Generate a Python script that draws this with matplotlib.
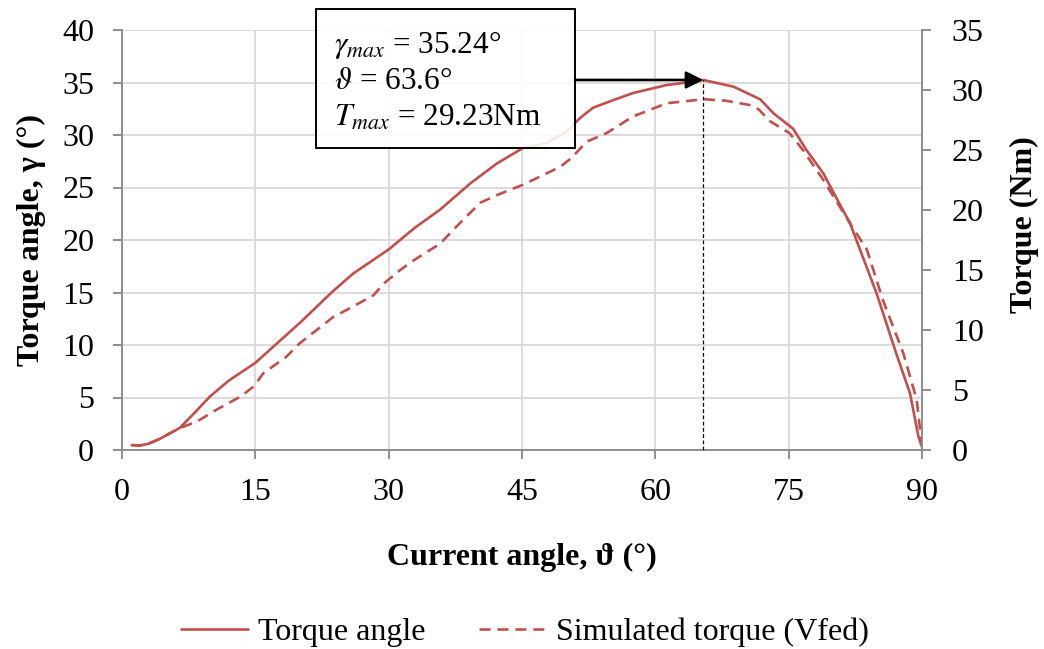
import matplotlib
matplotlib.use("Agg")
import matplotlib.pyplot as plt
from matplotlib.patches import Rectangle

# Torque angle versus current angle (left axis, degrees)
theta_gamma = [1.1, 2, 3, 4, 5, 6.5, 8, 9.9, 12, 15, 17.5, 20, 23.7, 26, 30, 33,
               35.8, 39.2, 42.2, 45.1, 47.7, 50, 51.5, 53, 55.2, 57.5, 61.3, 63.5,
               65.4, 68.8, 71.8, 73.3, 75.5, 77, 78.9, 80.5, 81.9, 84.9, 87.1,
               88.65, 89.6, 90]
gamma = [0.45, 0.42, 0.6, 0.95, 1.4, 2.1, 3.4, 5.1, 6.6, 8.3, 10.2, 12.1, 15.1,
         16.8, 19.1, 21.2, 22.9, 25.4, 27.3, 28.76, 29.2, 30.3, 31.6, 32.6, 33.3,
         34.0, 34.76, 35.0, 35.24, 34.6, 33.4, 32.06, 30.6, 28.57, 26.35, 23.8,
         21.6, 14.9, 9.2, 5.4, 1.27, 0.3]

# Simulated torque (Vfed) versus current angle (right axis, Nm)
theta_torque = [1.1, 2, 3, 4, 5, 6.5, 8.4, 10.5, 13.3, 14.8, 15.9, 18.5, 20, 23.8,
                25.6, 28.3, 29.5, 31.3, 32.8, 35.8, 37.6, 40.3, 42.2, 45.1, 49.3,
                50.5, 52.3, 54.5, 57.5, 61.3, 65.5, 68, 70.6, 71.6, 72.9, 75.1,
                76.6, 78.9, 81.9, 83.8, 85.6, 87.9, 89.4, 90]
torque = [0.42, 0.38, 0.55, 0.85, 1.25, 1.83, 2.36, 3.3, 4.44, 5.28, 6.39, 7.78,
          8.9, 11.1, 11.8, 12.9, 13.9, 15.0, 15.8, 17.2, 18.6, 20.6, 21.25, 22.1,
          23.6, 24.3, 25.7, 26.4, 27.8, 28.9, 29.23, 29.1, 28.75, 28.4, 27.4,
          26.4, 25.0, 22.5, 18.9, 16.7, 12.5, 8.06, 4.2, 0.3]

theta_peak = 65.4
gamma_max = 35.24
annotation_lines = [r"$\gamma_{max}$ = 35.24°", r"$\vartheta$ = 63.6°",
                    r"$T_{max}$ = 29.23Nm"]

x_ticks = [0, 15, 30, 45, 60, 75, 90]
left_ticks = [0, 5, 10, 15, 20, 25, 30, 35, 40]
right_ticks = [0, 5, 10, 15, 20, 25, 30, 35]

red = "#C0504D"
axis_grey = "#868686"
grid_grey = "#D9D9D9"

plt.rcParams["font.family"] = ["Liberation Serif", "DejaVu Serif"]
plt.rcParams["mathtext.fontset"] = "stix"

fig = plt.figure(figsize=(10.44, 6.49), dpi=100)
ax = fig.add_axes([122 / 1044, 1 - 450 / 649, 800 / 1044, 420 / 649])
ax2 = ax.twinx()

fs = 23

ax.set_xlim(0, 90)
ax.set_ylim(0, 40)
ax2.set_ylim(0, 35)
ax.set_xticks(x_ticks)
ax.set_yticks(left_ticks)
ax2.set_yticks(right_ticks)

ax.grid(True, color=grid_grey, linewidth=1.3, zorder=0)
ax.set_axisbelow(True)

for a in (ax, ax2):
    a.spines["top"].set_visible(False)
    for s in ("left", "right", "bottom"):
        a.spines[s].set_color(axis_grey)
        a.spines[s].set_linewidth(1.3)
    a.tick_params(direction="out", length=6.5, width=1.3, color=axis_grey,
                  labelsize=fs, labelcolor="black")
ax.spines["right"].set_visible(False)
ax2.spines["left"].set_visible(False)
ax2.spines["bottom"].set_visible(False)
ax.tick_params(axis="x", pad=13.5)
ax.tick_params(axis="y", pad=13.5)
ax2.tick_params(axis="y", pad=15)

l1, = ax.plot(theta_gamma, gamma, color=red, linewidth=1.9, label="Torque angle",
              solid_capstyle="round")
l2, = ax2.plot(theta_torque, torque, color=red, linewidth=1.9,
               linestyle=(0, (4.2, 2.6)), label="Simulated torque (Vfed)")

ax.set_xlabel("Current angle, ϑ (°)", fontsize=fs, fontweight="bold")
ax.xaxis.set_label_coords(0.5, -0.222)
ax.set_ylabel("Torque angle, γ (°)", fontsize=fs, fontweight="bold")
ax.yaxis.set_label_coords(-0.095, 0.5)
ax2.set_ylabel("Torque (Nm)", fontsize=fs, fontweight="bold")
ax2.yaxis.set_label_coords(1.11, 0.536)

# Vertical marker at the peak
ax2.plot([theta_peak, theta_peak], [0, gamma_max], transform=ax.transData,
         color="black", linewidth=0.9, linestyle=(0, (3, 2)), zorder=4)

# Annotation box with peak values
box_left, box_right = 21.8, 50.96
box_bottom, box_top = 28.76, 42.0
ax2.add_patch(Rectangle((box_left, box_bottom), box_right - box_left,
                        box_top - box_bottom, transform=ax.transData,
                        facecolor="white", edgecolor="none", alpha=0.88,
                        clip_on=False, zorder=5))
ax2.add_patch(Rectangle((box_left, box_bottom), box_right - box_left,
                        box_top - box_bottom, transform=ax.transData,
                        facecolor="none", edgecolor="black",
                        linewidth=1.4, clip_on=False, zorder=6))
for i, txt in enumerate(annotation_lines):
    ax2.text(23.9, 38.6 - i * 3.5, txt, transform=ax.transData, fontsize=22.5,
             va="center", ha="left", zorder=7, clip_on=False)

ax2.annotate("", xy=(theta_peak, gamma_max), xycoords=ax.transData,
             xytext=(box_right, gamma_max), textcoords=ax.transData,
             arrowprops=dict(arrowstyle="-|>", color="black", lw=1.9,
                             mutation_scale=26, shrinkA=0, shrinkB=0),
             zorder=7)

fig.legend(handles=[l1, l2], loc="center", bbox_to_anchor=(525 / 1044, 1 - 632 / 649),
           ncol=2, frameon=False, fontsize=fs, handlelength=2.1,
           handletextpad=0.3, columnspacing=1.7, borderpad=0, borderaxespad=0)

fig.savefig("out.png", dpi=100)
